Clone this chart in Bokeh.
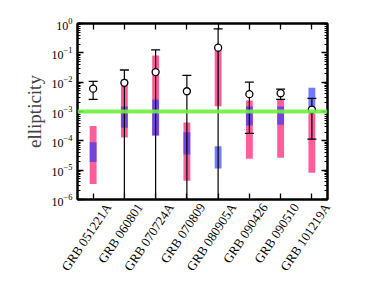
import math
from bokeh.plotting import figure
from bokeh.models import (Range1d, LinearAxis, LogAxis, LogTicker, FixedTicker, Span,
                          ColumnDataSource)
from bokeh.embed import file_html
from bokeh.resources import INLINE

grbs = ["GRB 051221A", "GRB 060801", "GRB 070724A", "GRB 070809",
        "GRB 080905A", "GRB 090426", "GRB 090510", "GRB 101219A"]
# measured ellipticity (circle) and its error bar
ell = [6.0e-3, 9.5e-3, 2.2e-2, 4.9e-3, 1.5e-1, 3.9e-3, 4.2e-3, 1.15e-3]
err_hi = [1.07e-2, 2.6e-2, 1.26e-1, 1.7e-2, 6.6e-1, 1.0e-2, 5.8e-3, 2.8e-3]
err_lo = [2.6e-3, 1e-7, 1e-7, 1e-7, 1e-7, 1.8e-4, 2.6e-3, 1.15e-4]
# pink band
pink_top = [3.2e-4, 1.26e-2, 8.1e-2, 4.2e-4, 1.55e-1, 2.35e-3, 2.57e-3, 8.3e-4]
pink_bot = [3.4e-6, 1.29e-4, 1.51e-4, 4.4e-6, 1.51e-3, 2.45e-5, 2.63e-5, 8.1e-6]
# blue band
blue_top = [8.9e-5, 1.48e-3, 2.57e-3, 1.95e-4, 6.5e-5, 1.48e-3, 1.48e-3, 6.5e-3]
blue_bot = [1.9e-5, 2.8e-4, 1.51e-4, 3.4e-5, 1.15e-5, 3.3e-4, 3.5e-4, 1.1e-3]
limit = 1e-3
y_start, y_end = 1e-6, 1.0

xs = list(range(len(grbs)))
LABEL_SHIFT = 0.49   # rotated tick labels sit a little right of their ticks

p = figure(x_range=Range1d(-0.5, len(grbs) - 0.5),
           y_range=Range1d(y_start, y_end), y_axis_type="log",
           frame_width=250, frame_height=176,
           min_border_left=77, min_border_top=23, min_border_right=20, min_border_bottom=10,
           output_backend="svg", toolbar_location=None)
p.extra_x_ranges = {"lab": Range1d(-0.5 - LABEL_SHIFT, len(grbs) - 0.5 - LABEL_SHIFT)}
p.background_fill_color = "white"
p.border_fill_color = "white"
p.xgrid.grid_line_color = None
p.ygrid.grid_line_color = None
p.outline_line_color = "black"
p.outline_line_width = 2

src = ColumnDataSource(dict(x=xs, ell=ell, hi=err_hi, lo=err_lo,
                            pt=pink_top, pb=pink_bot, bt=blue_top, bb=blue_bot))

p.vbar(x="x", top="pt", bottom="pb", width=0.22, source=src,
       fill_color="#ff4d8f", fill_alpha=0.9, line_color=None)
p.vbar(x="x", top="bt", bottom="bb", width=0.22, source=src,
       fill_color="#2a33ff", fill_alpha=0.65, line_color=None)

p.add_layout(Span(location=limit, dimension="width", line_color="#6fee40",
                  line_width=4, line_alpha=0.9))

p.segment(x0="x", y0="lo", x1="x", y1="hi", source=src, line_color="black", line_width=1.2)
p.scatter(x=xs, y=err_hi, marker="dash", size=9, line_color="black", line_width=1.3)
cap_x = [i for i, lo in zip(xs, err_lo) if lo > 1e-6]
cap_y = [lo for lo in err_lo if lo > 1e-6]
p.scatter(x=cap_x, y=cap_y, marker="dash", size=9, line_color="black", line_width=1.3)
p.scatter(x="x", y="ell", source=src, marker="circle", size=7,
          fill_color="white", line_color="black", line_width=1.3)

font = "Liberation Serif"
xa = p.xaxis[0]
xa.ticker = FixedTicker(ticks=xs, minor_ticks=[])
xa.major_label_text_font_size = "0px"
xa.major_label_text_color = None
xa.major_label_standoff = 0
xa.major_tick_in = 6
xa.major_tick_out = 0
xa.minor_tick_in = 0
xa.minor_tick_out = 0
xa.axis_line_width = 2
xa.major_tick_line_width = 1.3

# label-only axis (shifted range) for the rotated category names
lab_axis = LinearAxis(x_range_name="lab", ticker=FixedTicker(ticks=xs, minor_ticks=[]),
                      major_label_overrides={i: g for i, g in zip(xs, grbs)},
                      major_label_orientation=math.radians(56),
                      major_label_text_font=font, major_label_text_font_size="13px",
                      major_label_text_color="black", major_label_standoff=5,
                      axis_line_color=None, major_tick_line_color=None,
                      minor_tick_line_color=None, major_tick_in=0, major_tick_out=0,
                      minor_tick_in=0, minor_tick_out=0)
p.add_layout(lab_axis, "below")

ya = p.yaxis[0]
ya.ticker = LogTicker(num_minor_ticks=10)
ya.axis_label = "ellipticity"
ya.axis_label_text_font = font
ya.axis_label_text_font_style = "normal"
ya.axis_label_text_font_size = "19px"
ya.axis_label_standoff = 4
ya.major_label_text_font = font
ya.major_label_text_font_size = "12px"
ya.major_label_text_color = "black"
ya.major_tick_in = 6
ya.major_tick_out = 0
ya.minor_tick_in = 3
ya.minor_tick_out = 0
ya.axis_line_width = 2
ya.major_tick_line_width = 1.3

top = LinearAxis(ticker=FixedTicker(ticks=xs, minor_ticks=[]), major_label_text_color=None,
                 major_label_text_font_size="0px",
                 major_tick_in=6, major_tick_out=0, minor_tick_in=0, minor_tick_out=0,
                 axis_line_width=2, major_tick_line_width=1.3)
p.add_layout(top, "above")
right = LogAxis(ticker=LogTicker(num_minor_ticks=10), major_label_text_color=None,
                major_tick_in=6, major_tick_out=0, minor_tick_in=3, minor_tick_out=0,
                axis_line_width=2, major_tick_line_width=1.3)
p.add_layout(right, "right")

open("out.html", "w").write(file_html(p, INLINE))
